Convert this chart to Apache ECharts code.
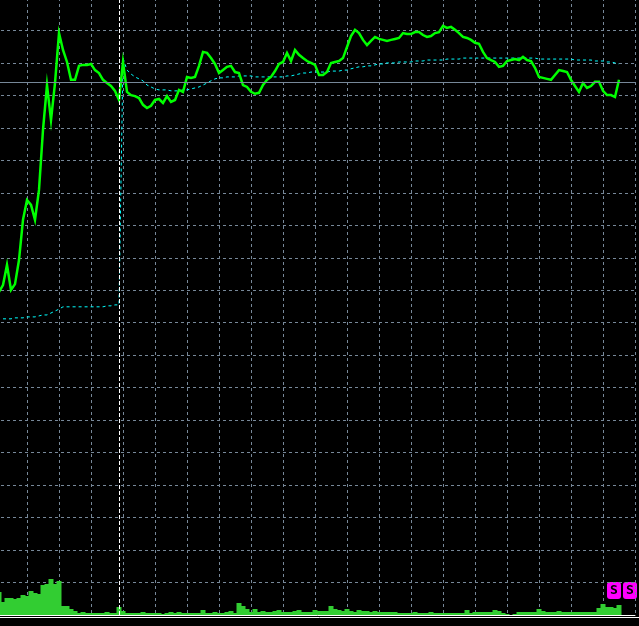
<!DOCTYPE html>
<html>
<head>
<meta charset="utf-8">
<script src="https://cdn.jsdelivr.net/npm/echarts@6/dist/echarts.min.js"></script>
<style>
html,body{margin:0;padding:0;background:#000;}
#chart{width:639px;height:626px;}
</style>
</head>
<body>
<div id="chart"></div>
<script>
// time slots (one per bar group)
const slots = [];
for (let i = 0; i <= 160; i++) slots.push(String(i));

// price (close) values
const price = [null,
 99.5,101.6,107.8,100.1,101.9,109.3,121.7,127.8,126.3,121.7,
 130.9,149.4,163.2,152.4,163.8,179.2,174.0,170.3,164.8,164.8,
 169.1,169.4,169.4,169.7,167.8,166.9,164.8,163.8,162.9,161.4,
 158.6,170.3,161.1,160.1,159.8,159.2,157.1,156.1,156.8,158.6,
 158.9,157.7,159.8,158.0,158.6,161.7,161.1,165.7,165.4,165.7,
 169.1,173.4,173.1,171.5,169.7,166.9,167.8,168.8,169.1,167.2,
 166.9,163.2,162.6,161.1,160.5,160.8,163.2,164.8,165.7,167.5,
 169.7,170.3,173.1,170.6,174.0,172.5,171.5,170.6,170.0,169.4,
 166.3,166.3,167.2,170.0,170.3,170.6,171.5,174.9,178.3,180.2,
 179.2,177.1,175.5,176.8,178.0,177.4,177.1,176.8,177.1,177.4,
 177.7,179.2,178.9,178.9,179.5,179.5,178.6,178.0,178.3,179.2,
 179.5,181.4,180.8,181.1,180.2,179.2,178.0,177.7,177.1,176.2,
 175.9,173.4,171.5,170.9,170.3,168.8,169.1,170.6,170.9,171.2,
 170.9,171.9,170.9,170.6,168.5,165.7,165.4,165.1,164.8,166.3,
 167.8,167.5,167.2,164.8,162.9,161.1,163.8,162.3,162.9,164.2,
 164.2,161.4,160.1,160.1,159.5,164.8];

// moving average values
const movingAvg = [null, null,
 91.2,91.2,91.2,91.5,91.5,91.5,91.8,91.8,
 91.8,92.1,92.4,92.4,93.0,93.6,94.2,94.9,94.9,94.9,
 94.9,94.9,94.9,94.9,94.9,94.9,94.9,94.9,95.2,95.2,
 95.5,95.5,171.5,167.8,166.6,165.7,165.1,164.5,163.2,162.6,
 162.0,161.7,161.7,161.7,161.4,161.4,161.4,161.7,161.7,162.0,
 162.3,162.6,163.2,163.8,164.5,165.1,165.4,165.4,165.7,165.7,
 165.7,166.0,166.0,166.0,166.0,165.7,165.7,165.7,165.7,165.7,
 165.7,165.7,165.7,166.0,166.0,166.3,166.6,166.9,166.9,167.2,
 167.2,167.2,167.2,167.2,167.5,167.5,167.5,167.8,167.8,168.2,
 168.5,168.8,168.8,169.1,169.1,169.4,169.7,169.7,170.0,170.0,
 170.0,170.3,170.3,170.3,170.3,170.6,170.6,170.6,170.9,170.9,
 170.9,170.9,170.9,171.2,171.2,171.2,171.2,171.5,171.5,171.5,
 171.5,171.5,171.5,171.5,171.5,171.5,171.5,171.5,171.5,171.5,
 171.5,171.5,171.5,171.5,171.5,171.5,171.2,171.2,171.2,171.2,
 171.2,171.2,171.2,171.2,171.2,170.9,170.9,170.9,170.9,170.9,
 170.6,170.6,170.6,170.3,170.3,170.0,169.7];

// tick volume
const volume = [null,
 23,13,17,17,16,17,20,19,24,22,
 21,30,31,36,31,34,9,9,6,4,
 2,3,2,2,2,2,2,3,2,2,
 8,4,2,2,2,2,3,2,2,2,
 2,1,2,3,2,3,2,2,2,2,
 2,5,2,2,3,2,2,3,4,2,
 12,9,6,3,6,3,4,3,3,4,
 5,3,3,3,4,5,3,3,3,5,
 4,4,4,9,6,5,4,6,4,3,
 5,4,4,3,4,3,3,3,3,3,
 2,2,2,2,3,2,2,2,3,2,
 2,2,2,2,2,2,2,5,2,3,
 3,3,3,3,5,4,2,1,0,1,
 3,3,3,3,3,6,4,3,3,3,
 4,3,3,3,3,3,3,3,3,3,
 7,11,8,8,7,10];

const bidLevel = 164.2;
const markerSlot = 31;

const chart = echarts.init(document.getElementById('chart'), null, {renderer: 'canvas'});
const gridColor = '#778899';
chart.setOption({
  backgroundColor: '#000000',
  animation: false,
  grid: {left: -5, right: 4, top: -2, bottom: 11, containLabel: false, outerBoundsMode: 'none'},
  xAxis: {
    type: 'category', data: slots, boundaryGap: false,
    axisLine: {show: true, lineStyle: {color: '#ffffff', width: 1}},
    axisTick: {show: false}, axisLabel: {show: false},
    splitLine: {show: true, interval: 7, lineStyle: {color: gridColor, type: [3, 3], width: 1}}
  },
  yAxis: [{
    type: 'value', min: 0, max: 190, interval: 10,
    axisLine: {show: false}, axisTick: {show: false}, axisLabel: {show: false},
    splitLine: {show: true, lineStyle: {color: gridColor, type: [3, 3], width: 1}}
  }, {
    type: 'value', min: 0, max: 617,
    axisLine: {show: false}, axisTick: {show: false}, axisLabel: {show: false},
    splitLine: {show: false}
  }],
  series: [{
    type: 'bar', yAxisIndex: 1, data: volume, barWidth: 5, barGap: '0%',
    itemStyle: {color: '#32CD32'}, silent: true
  }, {
    type: 'line', data: movingAvg, symbol: 'none', silent: true,
    lineStyle: {color: '#00FFFF', width: 1, type: [3, 3]}
  }, {
    type: 'line', data: price, symbol: 'none', silent: true,
    lineStyle: {color: '#00FF00', width: 2.5, join: 'miter'},
    markLine: {
      silent: true, symbol: 'none', animation: false,
      label: {show: false},
      data: [
        {yAxis: bidLevel, lineStyle: {color: gridColor, type: 'solid', width: 1}},
        {xAxis: markerSlot, lineStyle: {color: '#ffffff', type: [4, 2], width: 1}}
      ]
    }
  }],
  graphic: [
    {type: 'line', shape: {x1: 0, y1: 617.5, x2: 639, y2: 617.5}, style: {stroke: '#ffffff', lineWidth: 1}, silent: true},
    {type: 'rect', shape: {x: 607, y: 582, width: 14, height: 17, r: 3}, style: {fill: '#FF00FF'}, silent: true},
    {type: 'text', x: 614, y: 590.5, style: {text: 'S', fill: '#000000', font: 'bold 13px "DejaVu Sans Mono"', align: 'center', verticalAlign: 'middle'}, silent: true},
    {type: 'rect', shape: {x: 623, y: 582, width: 14, height: 17, r: 3}, style: {fill: '#FF00FF'}, silent: true},
    {type: 'text', x: 630, y: 590.5, style: {text: 'S', fill: '#000000', font: 'bold 13px "DejaVu Sans Mono"', align: 'center', verticalAlign: 'middle'}, silent: true}
  ]
});
</script>
</body>
</html>
